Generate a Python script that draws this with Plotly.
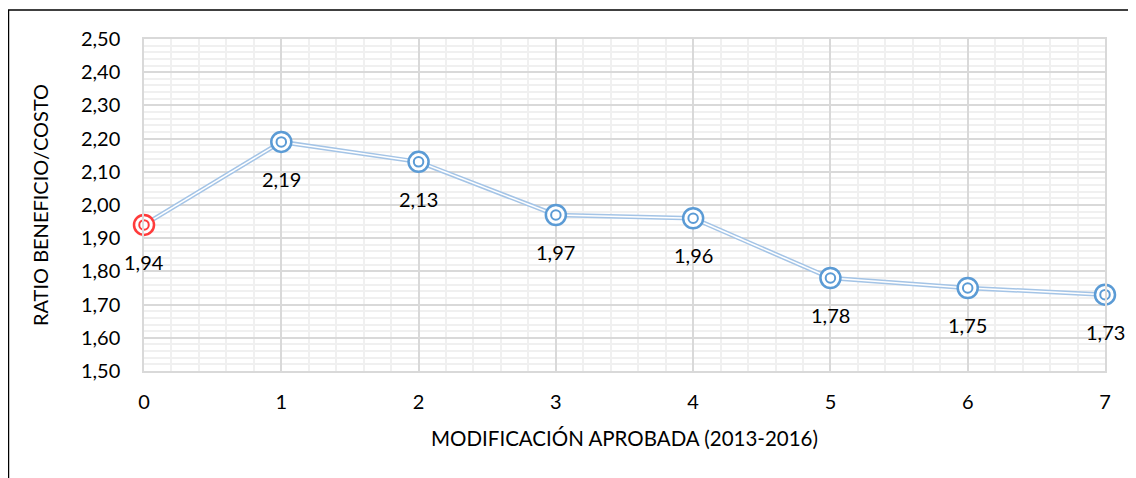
import plotly.graph_objects as go

modificacion = [0, 1, 2, 3, 4, 5, 6, 7]
ratio = [1.94, 2.19, 2.13, 1.97, 1.96, 1.78, 1.75, 1.73]
marker_colors = ["#ff3b3b", "#5b9bd5", "#5b9bd5", "#5b9bd5", "#5b9bd5", "#5b9bd5", "#5b9bd5", "#5b9bd5"]
y_ticks = [1.5, 1.6, 1.7, 1.8, 1.9, 2.0, 2.1, 2.2, 2.3, 2.4, 2.5]
x_ticks = [0, 1, 2, 3, 4, 5, 6, 7]

FONT = "Lato"
fig = go.Figure()

# double line (compound) effect
fig.add_trace(go.Scatter(x=modificacion, y=ratio, mode="lines",
                         line=dict(color="#a4c4e6", width=4.5), hoverinfo="skip", cliponaxis=False))
fig.add_trace(go.Scatter(x=modificacion, y=ratio, mode="lines",
                         line=dict(color="white", width=1.5), hoverinfo="skip", cliponaxis=False))
# outer ring
fig.add_trace(go.Scatter(x=modificacion, y=ratio, mode="markers",
                         marker=dict(symbol="circle", size=20, color="white",
                                     line=dict(color=marker_colors, width=2.5)),
                         cliponaxis=False))
# inner ring
fig.add_trace(go.Scatter(x=modificacion, y=ratio, mode="markers",
                         marker=dict(symbol="circle-open", size=9.5, color=marker_colors,
                                     line=dict(color=marker_colors, width=2)),
                         cliponaxis=False))

for xv, yv in zip(modificacion, ratio):
    fig.add_annotation(x=xv, y=yv, text=f"{yv:.2f}".replace(".", ","),
                       showarrow=False, yshift=-37,
                       font=dict(family=FONT, size=20, color="#000000"))

# page body has an 8px default margin; figure is sized to fit inside the window
W, H = 1128, 470
L, R, T, B = 136, 31, 31, 107
pw, ph = W - L - R, H - T - B
fig.add_shape(type="line", xref="paper", yref="paper", x0=-L / pw, x1=1.05, y0=1 + (T - 2) / ph, y1=1 + (T - 2) / ph,
              line=dict(color="black", width=1.5))
fig.add_shape(type="line", xref="paper", yref="paper", x0=-L / pw + 0.0005, x1=-L / pw + 0.0005,
              y0=1 + (T - 2) / ph, y1=-B / ph - 0.05,
              line=dict(color="black", width=1.5))

fig.update_layout(
    width=W, height=H,
    margin=dict(l=L, r=R, t=T, b=B),
    paper_bgcolor="white", plot_bgcolor="white",
    showlegend=False,
    separators=", ",
    font=dict(family=FONT, size=20, color="#000000"),
    xaxis=dict(range=[0, 7], tickvals=x_ticks, showgrid=True, gridcolor="#d9d9d9", gridwidth=1.5,
               minor=dict(dtick=0.2, showgrid=True, gridcolor="#f0f0f0", gridwidth=1.5),
               showline=True, linecolor="#d9d9d9", linewidth=1.5, mirror=True,
               zeroline=False, ticks="", ticklabelstandoff=12,
               title=dict(text="MODIFICACIÓN APROBADA (2013-2016)", font=dict(size=20.5), standoff=20)),
    yaxis=dict(range=[1.5, 2.5], tickvals=y_ticks, tickformat=".2f", showgrid=True,
               gridcolor="#d9d9d9", gridwidth=1.5,
               minor=dict(dtick=0.02, showgrid=True, gridcolor="#f0f0f0", gridwidth=1.5),
               showline=True, linecolor="#d9d9d9", linewidth=1.5, mirror=True,
               zeroline=False, ticks="", ticklabelstandoff=18,
               title=dict(text="RATIO BENEFICIO/COSTO", font=dict(size=20), standoff=27)),
)

fig.write_html("out.html")
